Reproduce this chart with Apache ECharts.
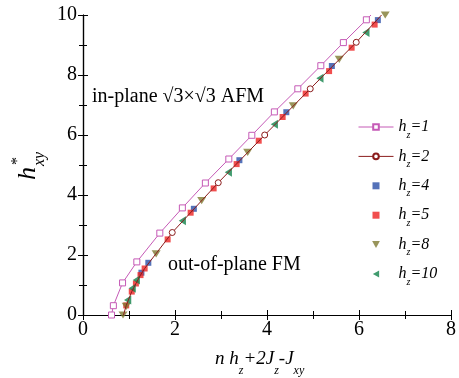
<!DOCTYPE html>
<html>
<head>
<meta charset="utf-8">
<script src="https://cdn.jsdelivr.net/npm/echarts@6/dist/echarts.min.js"></script>
<style>
  html, body { margin: 0; padding: 0; background: #fff; }
  #chart { width: 459px; height: 378px; }
</style>
</head>
<body>
<div id="chart"></div>
<script>
// data: [n*hz + 2Jz - Jxy, h*_xy]
const hz1 = [[0.62, 0], [0.66, 0.31], [0.86, 1.07], [1.17, 1.77], [1.67, 2.73], [2.16, 3.57], [2.66, 4.4],
  [3.17, 5.2], [3.67, 5.99], [4.16, 6.77], [4.67, 7.54], [5.17, 8.31], [5.66, 9.08], [6.16, 9.84], [6.26, 10]];
const hz2 = [[0.88, 0], [0.94, 0.32], [1.06, 0.78], [1.15, 1.05], [1.25, 1.33], [1.34, 1.55], [1.94, 2.75],
  [2.94, 4.41], [3.95, 6.0], [4.94, 7.54], [5.94, 9.09], [6.49, 10]];
const hz4 = [[1.27, 1.41], [1.42, 1.74], [2.41, 3.54], [3.4, 5.16], [4.42, 6.76], [5.41, 8.3], [6.41, 9.83]];
const hz5 = [[0.94, 0.32], [1.06, 0.78], [1.15, 1.05], [1.25, 1.33], [1.34, 1.55], [1.84, 2.52], [2.34, 3.41],
  [2.84, 4.22], [3.34, 5.03], [3.82, 5.81], [4.34, 6.6], [4.84, 7.38], [5.35, 8.13], [5.84, 8.91], [6.34, 9.68]];
const hz8 = [[0.87, 0], [0.94, 0.29], [1.59, 2.04], [2.58, 3.81], [3.58, 5.42], [4.57, 6.97], [5.57, 8.52], [6.57, 10]];
const hz10 = [[0.97, 0.5], [1.07, 0.89], [1.16, 1.17], [2.16, 3.14], [3.16, 4.76], [4.16, 6.36], [5.15, 7.89], [6.15, 9.42]];
// hz=2 circles are only drawn on the measured points
const hz2CircleX = [1.94, 2.94, 3.95, 4.94, 5.94];

const serif = 'Liberation Serif';
const myChart = echarts.init(document.getElementById('chart'));

const axisCommon = {
  type: 'value',
  axisLine: { show: true, lineStyle: { color: '#000', width: 1.2 } },
  axisTick: { show: true, inside: true, length: 5, lineStyle: { color: '#000', width: 1 } },
  minorTick: { show: true, splitNumber: 2, length: 4, lineStyle: { color: '#000', width: 1 } },
  splitLine: { show: false },
  axisLabel: { color: '#000', fontFamily: serif, fontSize: 20 }
};

const square = 'path://M0,0 L10,0 L10,10 L0,10 Z';
const triDown = 'path://M0,0 L10,0 L5,9 Z';
const triLeft = 'path://M9,0 L9,10 L0,5 Z';

const option = {
  animation: false,
  backgroundColor: '#fff',
  grid: { left: 83, top: 15, right: 6, bottom: 63 },
  xAxis: [
    Object.assign({}, axisCommon, { min: 0, max: 8, interval: 2, position: 'bottom',
      axisLabel: Object.assign({}, axisCommon.axisLabel, { margin: 5 }) }),
    Object.assign({}, axisCommon, { min: 0, max: 8, interval: 2, position: 'top', axisLabel: { show: false } })
  ],
  yAxis: [
    Object.assign({}, axisCommon, { min: 0, max: 10, interval: 2, position: 'left',
      axisLabel: Object.assign({}, axisCommon.axisLabel, { margin: 6 }) }),
    Object.assign({}, axisCommon, { min: 0, max: 10, interval: 2, position: 'right', axisLabel: { show: false } })
  ],
  legend: {
    orient: 'vertical',
    left: 358,
    top: 114,
    padding: 0,
    itemWidth: 35,
    itemHeight: 7,
    itemGap: 3.4,
    selectedMode: false,
    symbolKeepAspect: true,
    lineStyle: { width: 1 },
    formatter: function (name) {
      return '{m|h}{s|z}{m|' + name.slice(2) + '}';
    },
    textStyle: {
      rich: {
        m: { fontFamily: serif, fontStyle: 'italic', fontSize: 16, color: '#000', lineHeight: 16 },
        s: { fontFamily: serif, fontStyle: 'italic', fontSize: 10, color: '#000', lineHeight: 10, padding: [16, 0, 0, 0] }
      }
    },
    data: ['hz=1', 'hz=2', 'hz=4', 'hz=5', 'hz=8', 'hz=10']
  },
  series: [
    {
      name: 'hz=1', type: 'line', data: hz1,
      symbol: 'rect', symbolSize: function (v) { return v[1] < 10 ? 6 : 0; },
      showAllSymbol: true,
      lineStyle: { color: '#c55ab6', width: 1 },
      itemStyle: { color: '#fff', borderColor: '#c55ab6', borderWidth: 1 }
    },
    {
      name: 'hz=2', type: 'line', data: hz2,
      symbol: 'circle', symbolSize: function (v) { return hz2CircleX.indexOf(v[0]) >= 0 ? 6 : 0; },
      showAllSymbol: true,
      lineStyle: { color: '#8b1c1c', width: 1 },
      itemStyle: { color: '#fff', borderColor: '#8b1c1c', borderWidth: 1 }
    },
    {
      name: 'hz=4', type: 'scatter', data: hz4, symbol: square, symbolSize: 6, symbolKeepAspect: true,
      itemStyle: { color: '#2a4fa8' }
    },
    {
      name: 'hz=5', type: 'scatter', data: hz5, symbol: square, symbolSize: 6, symbolKeepAspect: true,
      itemStyle: { color: '#ee2222' }
    },
    {
      name: 'hz=8', type: 'scatter', data: hz8, symbol: triDown, symbolSize: [9, 8], symbolKeepAspect: true,
      itemStyle: { color: '#7f7a32' }
    },
    {
      name: 'hz=10', type: 'scatter', data: hz10, symbol: triLeft, symbolSize: [8, 9], symbolKeepAspect: true,
      itemStyle: { color: '#12824a' }
    }
  ],
  graphic: [
    {
      type: 'text', left: 92, top: 87,
      style: { text: 'in-plane √3×√3 AFM', fontFamily: serif, fontSize: 20, fill: '#000' }
    },
    {
      type: 'text', left: 168, top: 255,
      style: { text: 'out-of-plane FM', fontFamily: serif, fontSize: 20, fill: '#000' }
    },
    {
      // x axis title
      type: 'text', x: 215, y: 359,
      style: {
        text: '{m|n h}{s|z}{m|+2J}{s|z}{m|-J}{s|xy}',
        verticalAlign: 'middle',
        rich: {
          m: { fontFamily: serif, fontStyle: 'italic', fontSize: 19, fill: '#000', lineHeight: 19 },
          s: { fontFamily: serif, fontStyle: 'italic', fontSize: 12, fill: '#000', lineHeight: 12, padding: [23, 0, 0, 0] }
        }
      }
    },
    {
      // y axis title, rotated
      type: 'group', x: 28, y: 180, rotation: Math.PI / 2,
      children: [
        { type: 'text', x: 0, y: 0, style: { text: 'h', fontFamily: serif, fontStyle: 'italic', fontSize: 26, fill: '#000', verticalAlign: 'middle' } },
        { type: 'text', x: 15, y: -10, style: { text: '*', fontFamily: serif, fontSize: 16, fill: '#000', verticalAlign: 'middle' } },
        { type: 'text', x: 14, y: 11.5, style: { text: 'xy', fontFamily: serif, fontStyle: 'italic', fontSize: 16, fill: '#000', verticalAlign: 'middle' } }
      ]
    }
  ]
};

myChart.setOption(option);
</script>
</body>
</html>
